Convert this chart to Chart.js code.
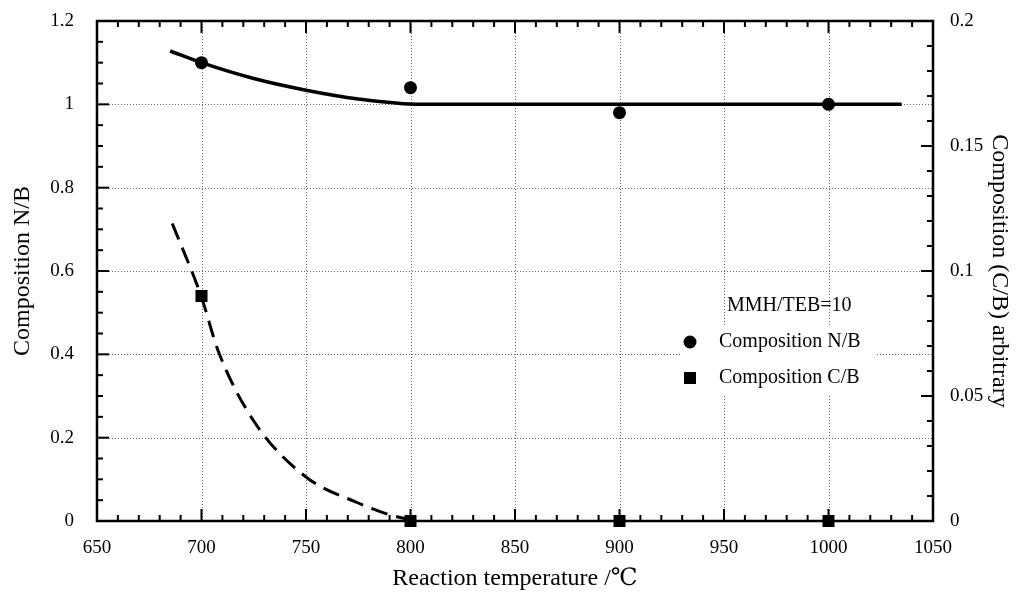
<!DOCTYPE html>
<html>
<head>
<meta charset="utf-8">
<script src="https://cdn.jsdelivr.net/npm/chart.js@4"></script>
<style>
  html, body { margin: 0; padding: 0; background: #fff; }
  #wrap { width: 1018px; height: 596px; position: relative; }
</style>
</head>
<body>
<div id="wrap"><canvas id="chart"></canvas></div>
<script>
// measured points
const temps = [700, 800, 900, 1000];
const nbValues = [1.10, 1.04, 0.98, 1.00];
const cbValues = [0.09, 0, 0, 0];

// fitted curves
const nbFitTemps = [685, 700, 725, 750, 775, 805, 850, 900, 1000, 1035];
const nbFitValues = [1.128, 1.10, 1.062, 1.034, 1.013, 1.0, 1.0, 1.0, 1.0, 1.0];
const cbFitTemps = [686, 700, 708, 725, 750, 775, 790, 800];
const cbFitValues = [0.119, 0.0895, 0.068, 0.040, 0.0176, 0.0072, 0.0025, 0.0005];

const legendTitle = 'MMH/TEB=10';
const legendLabels = ['Composition N/B', 'Composition C/B'];

const FONT = '"Liberation Serif", "DejaVu Serif", serif';

function toXY(xs, ys) {
  return xs.map((x, i) => ({ x: x, y: ys[i] }));
}

// plain number labels: 1 not 1.0, 1000 not 1,000
function plainLabel(value) {
  return String(Number(value.toFixed(3)));
}

// Draws the frame, inward ticks, dotted grid and the legend
const framePlugin = {
  id: 'frame',
  beforeDatasetsDraw(chart) {
    const { ctx, chartArea: a, scales } = chart;
    ctx.save();
    // dotted grid
    ctx.strokeStyle = '#666';
    ctx.lineWidth = 1;
    ctx.setLineDash([1, 2]);
    for (let v = 700; v < 1050; v += 50) {
      const px = Math.round(scales.x.getPixelForValue(v)) + 0.5;
      ctx.beginPath(); ctx.moveTo(px, a.top); ctx.lineTo(px, a.bottom); ctx.stroke();
    }
    for (let i = 1; i < 6; i++) {
      const py = Math.round(scales.y.getPixelForValue(i * 0.2)) + 0.5;
      ctx.beginPath(); ctx.moveTo(a.left, py); ctx.lineTo(a.right, py); ctx.stroke();
    }
    ctx.restore();
  },
  afterDatasetsDraw(chart) {
    const { ctx, chartArea: a, scales } = chart;
    ctx.save();
    ctx.setLineDash([]);
    ctx.strokeStyle = '#000';
    ctx.lineWidth = 2;
    // x ticks, bottom and top
    for (let v = 650; v <= 1050; v += 10) {
      const len = v % 50 === 0 ? 12 : 6;
      const px = scales.x.getPixelForValue(v);
      ctx.beginPath();
      ctx.moveTo(px, a.bottom); ctx.lineTo(px, a.bottom - len);
      ctx.moveTo(px, a.top); ctx.lineTo(px, a.top + len);
      ctx.stroke();
    }
    // left ticks
    for (let i = 0; i <= 24; i++) {
      const len = i % 4 === 0 ? 12 : 6;
      const py = scales.y.getPixelForValue(i * 0.05);
      ctx.beginPath(); ctx.moveTo(a.left, py); ctx.lineTo(a.left + len, py); ctx.stroke();
    }
    // right ticks
    for (let i = 0; i <= 20; i++) {
      const len = i % 5 === 0 ? 12 : 6;
      const py = scales.y2.getPixelForValue(i * 0.01);
      ctx.beginPath(); ctx.moveTo(a.right, py); ctx.lineTo(a.right - len, py); ctx.stroke();
    }
    // frame
    ctx.lineWidth = 2.5;
    ctx.strokeRect(a.left, a.top, a.right - a.left, a.bottom - a.top);

    // legend
    ctx.fillStyle = '#fff';
    ctx.fillRect(680, 326, 196, 68);
    ctx.fillStyle = '#000';
    ctx.font = '20px ' + FONT;
    ctx.textBaseline = 'middle';
    ctx.textAlign = 'left';
    ctx.fillText(legendTitle, 727, 306);
    ctx.fillText(legendLabels[0], 719, 342);
    ctx.fillText(legendLabels[1], 719, 378);
    ctx.beginPath();
    ctx.arc(690, 342, 6.5, 0, Math.PI * 2);
    ctx.fill();
    ctx.fillRect(684, 372, 12, 12);
    ctx.restore();
  }
};

const ctx = document.getElementById('chart').getContext('2d');

const tickFont = { family: FONT, size: 19 };
const titleFont = { family: FONT, size: 24 };

// fixed axis box sizes, no extra label overflow padding
function fixWidth(w) {
  return scale => {
    scale.width = w;
    scale.paddingTop = 0;
    scale.paddingBottom = 0;
  };
}

const config = {
  type: 'scatter',
  data: {
    datasets: [
      {
        label: 'fit N/B',
        type: 'line',
        data: toXY(nbFitTemps, nbFitValues),
        yAxisID: 'y',
        borderColor: '#000',
        borderWidth: 3.5,
        pointRadius: 0,
        cubicInterpolationMode: 'monotone',
        fill: false
      },
      {
        label: 'fit C/B',
        type: 'line',
        data: toXY(cbFitTemps, cbFitValues),
        yAxisID: 'y2',
        borderColor: '#000',
        borderWidth: 3,
        borderDash: [17, 9],
        pointRadius: 0,
        cubicInterpolationMode: 'monotone',
        fill: false
      },
      {
        label: legendLabels[0],
        data: toXY(temps, nbValues),
        yAxisID: 'y',
        pointStyle: 'circle',
        pointRadius: 6.5,
        backgroundColor: '#000',
        borderColor: '#000',
        borderWidth: 0
      },
      {
        label: legendLabels[1],
        data: toXY(temps, cbValues),
        yAxisID: 'y2',
        pointStyle: 'rect',
        pointRadius: 8.5,
        backgroundColor: '#000',
        borderColor: '#000',
        borderWidth: 0,
        clip: false
      }
    ]
  },
  options: {
    responsive: true,
    maintainAspectRatio: false,
    animation: false,
    events: [],
    layout: { padding: { top: 21, left: 0, right: 0, bottom: 0 } },
    plugins: {
      legend: { display: false },
      tooltip: { enabled: false }
    },
    scales: {
      x: {
        type: 'linear',
        min: 650,
        max: 1050,
        grid: { display: false },
        border: { display: false },
        ticks: {
          stepSize: 50,
          padding: 8,
          color: '#000',
          font: tickFont,
          callback: plainLabel
        },
        title: {
          display: true,
          text: 'Reaction temperature /℃',
          color: '#000',
          font: titleFont,
          padding: { top: 2, bottom: 3 }
        },
        afterFit: scale => {
          scale.height = 75;
          scale.paddingLeft = 0;
          scale.paddingRight = 0;
        }
      },
      y: {
        position: 'left',
        min: 0,
        max: 1.2,
        grid: { display: false },
        border: { display: false },
        ticks: {
          stepSize: 0.2,
          padding: 15,
          color: '#000',
          font: tickFont,
          callback: plainLabel
        },
        title: {
          display: true,
          text: 'Composition N/B',
          color: '#000',
          font: titleFont,
          padding: { top: 8, bottom: 2 }
        },
        afterFit: fixWidth(97)
      },
      y2: {
        position: 'right',
        min: 0,
        max: 0.2,
        grid: { display: false },
        border: { display: false },
        ticks: {
          stepSize: 0.05,
          padding: 9,
          color: '#000',
          font: tickFont,
          callback: plainLabel
        },
        title: {
          display: true,
          text: 'Composition (C/B) arbitrary',
          color: '#000',
          font: titleFont,
          padding: { top: 4, bottom: 2 }
        },
        afterFit: fixWidth(85)
      }
    }
  },
  plugins: [framePlugin]
};

new Chart(ctx, config);
</script>
</body>
</html>
